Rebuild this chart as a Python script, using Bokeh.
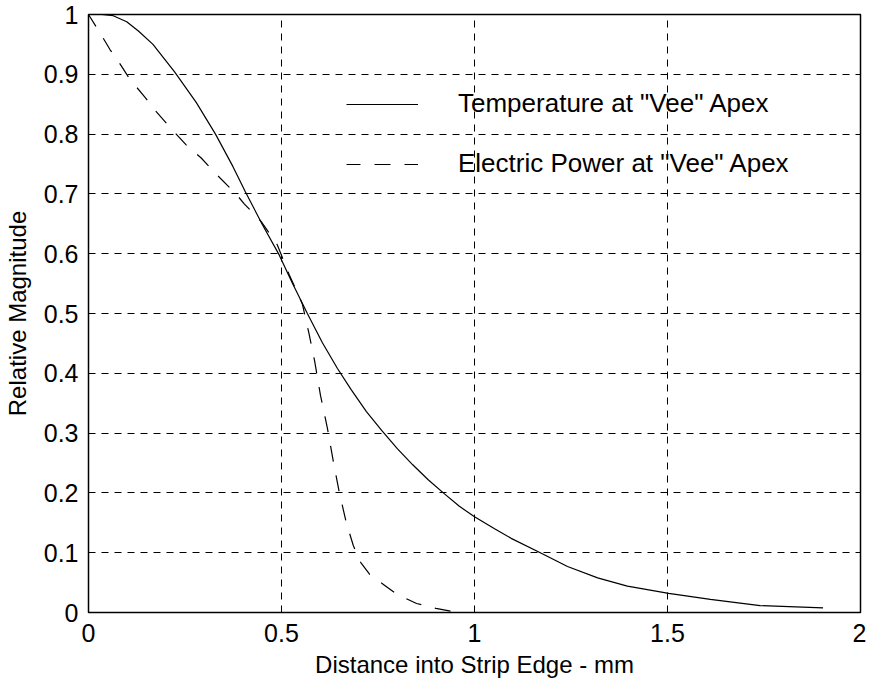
from bokeh.plotting import figure
from bokeh.models import FixedTicker, Legend, LegendItem, Range1d
from bokeh.embed import file_html
from bokeh.resources import INLINE

# Temperature at "Vee" Apex (solid)
temp_x = [0, 0.035, 0.064, 0.099, 0.13, 0.167, 0.223, 0.279, 0.329, 0.374, 0.406,
          0.451, 0.494, 0.528, 0.567, 0.606, 0.645, 0.68, 0.72, 0.76, 0.80, 0.84,
          0.88, 0.923, 0.96, 1.0, 1.052, 1.095, 1.173, 1.241, 1.319, 1.396, 1.503,
          1.611, 1.74, 1.903]
temp_y = [1.0, 1.0, 0.998, 0.988, 0.972, 0.950, 0.904, 0.853, 0.80, 0.746, 0.704,
          0.648, 0.598, 0.551, 0.50, 0.451, 0.408, 0.373, 0.336, 0.304, 0.274, 0.247,
          0.222, 0.198, 0.178, 0.160, 0.140, 0.124, 0.099, 0.077, 0.058, 0.044, 0.032,
          0.022, 0.0115, 0.0076]

# Electric Power at "Vee" Apex (dashed)
power_x = [0, 0.03, 0.056, 0.077, 0.107, 0.146, 0.172, 0.21, 0.253, 0.292, 0.331,
           0.382, 0.404, 0.447, 0.489, 0.52, 0.554, 0.571, 0.586, 0.601, 0.619,
           0.635, 0.65, 0.668, 0.686, 0.705, 0.728, 0.764, 0.80, 0.85, 0.90, 0.94]
power_y = [1.0, 0.969, 0.941, 0.922, 0.892, 0.862, 0.84, 0.812, 0.782, 0.76, 0.733,
           0.70, 0.683, 0.654, 0.615, 0.565, 0.516, 0.467, 0.42, 0.363, 0.308,
           0.25, 0.20, 0.15, 0.112, 0.084, 0.064, 0.047, 0.03, 0.015, 0.007, 0.002]

x_ticks = [0, 0.5, 1, 1.5, 2]
x_tick_labels = ["0", "0.5", "1", "1.5", "2"]
y_ticks = [0, 0.1, 0.2, 0.3, 0.4, 0.5, 0.6, 0.7, 0.8, 0.9, 1.0]
y_tick_labels = ["0", "0.1", "0.2", "0.3", "0.4", "0.5", "0.6", "0.7", "0.8", "0.9", "1"]

FONT = "Liberation Sans"

p = figure(width=866, height=680, output_backend="svg", toolbar_location=None,
           x_range=Range1d(0, 2), y_range=Range1d(0, 1),
           min_border_left=84, min_border_top=14, min_border_right=6, min_border_bottom=67)

p.background_fill_color = "white"
p.border_fill_color = "white"
p.outline_line_color = "black"
p.outline_line_width = 1.5

for ax in (p.xaxis[0], p.yaxis[0]):
    ax.axis_line_color = "black"
    ax.major_tick_line_color = "black"
    ax.major_tick_in = 6
    ax.major_tick_out = 0
    ax.minor_tick_line_color = None
    ax.major_label_text_font = FONT
    ax.major_label_text_font_size = "25px"
    ax.major_label_text_color = "black"
    ax.axis_label_text_font = FONT
    ax.axis_label_text_font_size = "24px"
    ax.axis_label_text_font_style = "normal"
    ax.axis_label_text_color = "black"

p.xaxis.ticker = FixedTicker(ticks=x_ticks)
p.xaxis.major_label_overrides = dict(zip(x_ticks, x_tick_labels))
p.yaxis.ticker = FixedTicker(ticks=y_ticks)
p.yaxis.major_label_overrides = dict(zip(y_ticks, y_tick_labels))
p.xaxis.axis_label = "Distance into Strip Edge - mm"
p.yaxis.axis_label = "Relative Magnitude"
p.xaxis.major_label_standoff = 11
p.yaxis.major_label_standoff = 10
p.xaxis.axis_label_standoff = 6
p.yaxis.axis_label_standoff = 10

for g in (p.xgrid[0], p.ygrid[0]):
    g.grid_line_color = "black"
    g.grid_line_dash = "7 6"
    g.grid_line_width = 1
    g.grid_line_alpha = 1.0

r_temp = p.line(temp_x, temp_y, line_color="black", line_width=1.2)
r_pow = p.line(power_x, power_y, line_color="black", line_width=1.2,
               line_dash="16 14", line_dash_offset=2)

legend = Legend(items=[LegendItem(label='Temperature at "Vee" Apex', renderers=[r_temp]),
                       LegendItem(label='Electric Power at "Vee" Apex', renderers=[r_pow])],
                location=(258, 433), orientation="vertical",
                border_line_color=None, background_fill_alpha=0,
                padding=0, margin=0, spacing=29,
                glyph_width=72, glyph_height=30, label_height=30, label_standoff=40,
                label_text_font=FONT, label_text_font_size="26px",
                label_text_color="black")
p.add_layout(legend)

open("out.html", "w").write(file_html(p, INLINE))
